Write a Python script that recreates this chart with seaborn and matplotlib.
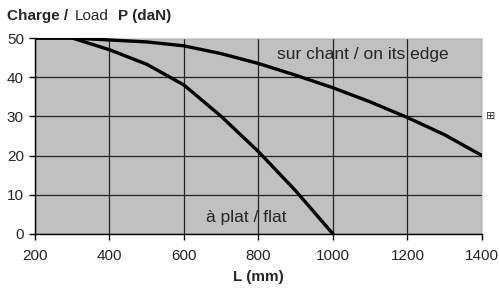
import numpy as np
import pandas as pd
import matplotlib
matplotlib.use('Agg')
import matplotlib.pyplot as plt
import seaborn as sns

# data
L_edge = [200, 300, 400, 500, 600, 700, 800, 900, 1000, 1100, 1200, 1300, 1400]
P_edge = [50, 50, 49.5, 49, 48, 46, 43.5, 40.5, 37.3, 33.7, 29.7, 25.3, 20]
L_flat = [200, 300, 400, 500, 600, 700, 800, 900, 1000]
P_flat = [50, 50, 47, 43.3, 38, 30, 21, 11, 0]

x_ticks = [200, 400, 600, 800, 1000, 1200, 1400]
y_ticks = [0, 10, 20, 30, 40, 50]

sns.set_theme(style='white')
plt.rcParams['font.family'] = ['Liberation Sans', 'DejaVu Sans']

df = pd.concat([
    pd.DataFrame({'L': L_edge, 'P': P_edge, 'pose': 'edge'}),
    pd.DataFrame({'L': L_flat, 'P': P_flat, 'pose': 'flat'}),
])

fig = plt.figure(figsize=(4.99, 2.93), dpi=100)
ax = fig.add_axes([0.0701, 0.2014, 0.8958, 0.6689])
ax.set_facecolor('#c0c0c0')

sns.lineplot(data=df, x='L', y='P', units='pose', estimator=None,
             color='black', linewidth=2.4, legend=False, ax=ax, zorder=3)

ax.set_xlim(200, 1400)
ax.set_ylim(0, 50)
ax.set_xticks(x_ticks)
ax.set_yticks(y_ticks)
ax.grid(True, color='#222222', linewidth=0.9)
ax.tick_params(axis='both', which='both', direction='out', length=4, width=1,
               color='black', labelsize=11, bottom=True, left=True)
ax.tick_params(axis='x', pad=7)
ax.tick_params(axis='y', pad=4)
for s in ['left', 'bottom']:
    ax.spines[s].set_color('black')
    ax.spines[s].set_linewidth(1.0)
for s in ['top', 'right']:
    ax.spines[s].set_color('#d8d8d8')
    ax.spines[s].set_linewidth(1.0)

ax.set_xlabel('L (mm)', fontsize=11, fontweight='bold', labelpad=5)
ax.set_ylabel('')

ax.text(850, 45.7, 'sur chant / on its edge', fontsize=12.5, ha='left', va='center')
ax.text(659, 4.3, 'à plat / flat', fontsize=12.5, ha='left', va='center')

fig.text(0.014, 0.945, 'Charge /', fontsize=11, fontweight='bold', va='center')
fig.text(0.150, 0.945, 'Load', fontsize=11, va='center')
fig.text(0.236, 0.945, 'P (daN)', fontsize=11, fontweight='bold', va='center')
fig.text(0.974, 0.605, '⊞', fontsize=8, va='center', ha='left', color='#333333',
         family=['DejaVu Sans'])

fig.savefig('out.png', dpi=100)
